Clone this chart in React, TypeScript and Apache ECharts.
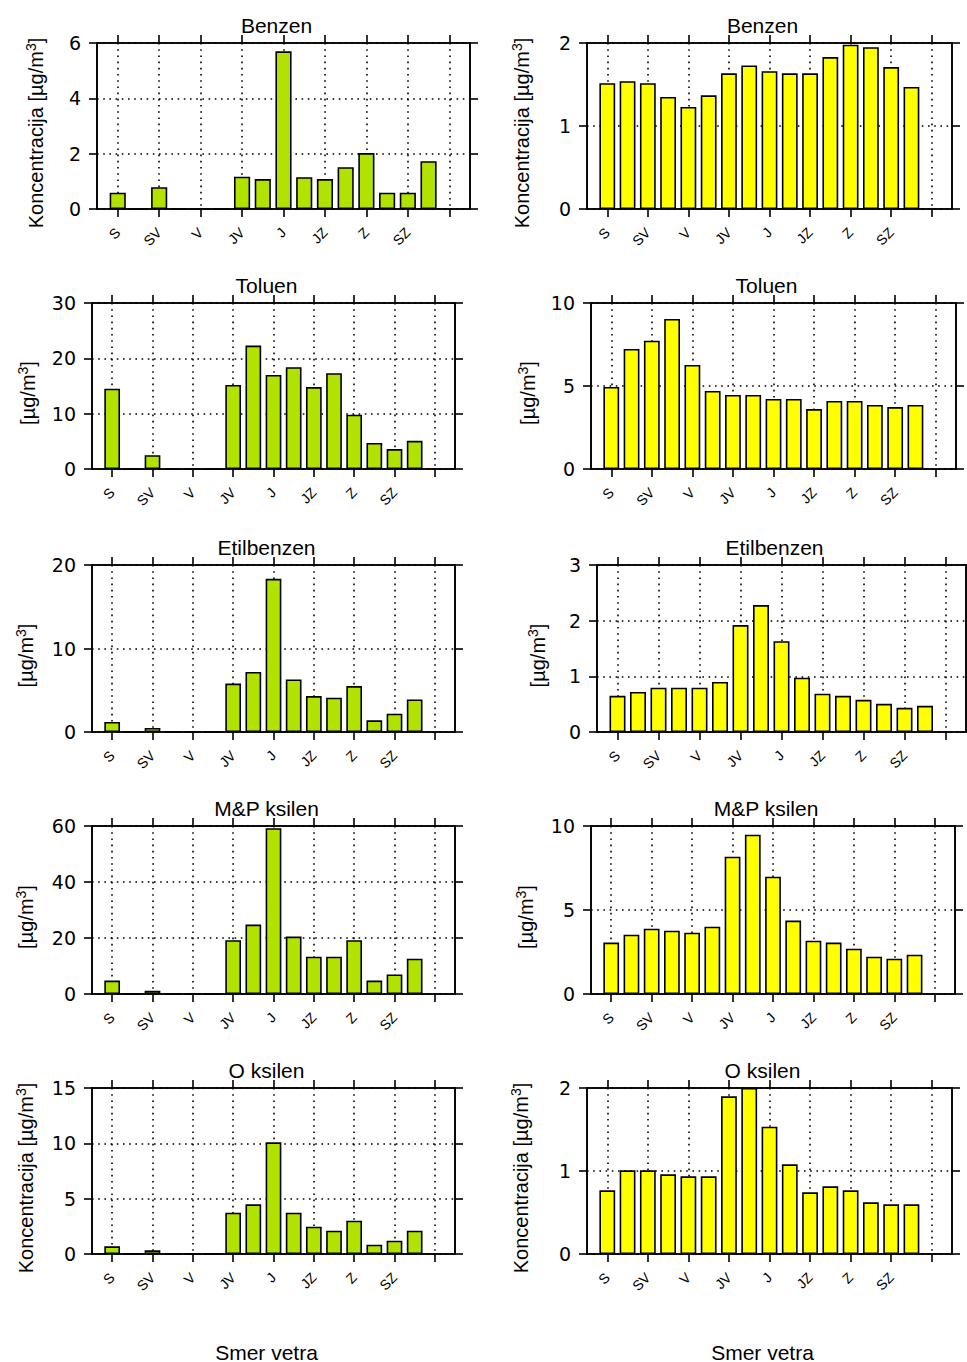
import React, { useEffect, useRef } from "react";
import * as echarts from "echarts";

// 16 wind directions (bars at positions 0..15)
const directions = ["S", "SSV", "SV", "VSV", "V", "VJV", "JV", "JJV", "J", "JJZ", "JZ", "ZJZ", "Z", "ZSZ", "SZ", "SSZ"];

const titles = ["Benzen", "Toluen", "Etilbenzen", "M&P ksilen", "O ksilen"];

// left column (green)
const benzenLeft = [0.59, 0, 0.79, 0, 0, 0, 1.17, 1.08, 5.7, 1.15, 1.08, 1.51, 2.02, 0.59, 0.59, 1.73];
const toluenLeft = [14.5, 0, 2.5, 0, 0, 0, 15.2, 22.3, 17.0, 18.4, 14.8, 17.3, 9.8, 4.7, 3.6, 5.1];
const etilbenzenLeft = [1.2, 0, 0.48, 0, 0, 0, 5.8, 7.2, 18.35, 6.3, 4.3, 4.1, 5.5, 1.4, 2.2, 3.9];
const mpKsilenLeft = [4.8, 0, 1.2, 0, 0, 0, 19.2, 24.8, 59.2, 20.5, 13.3, 13.3, 19.2, 4.8, 7.0, 12.6];
const oKsilenLeft = [0.69, 0, 0.33, 0, 0, 0, 3.73, 4.49, 10.09, 3.73, 2.47, 2.11, 3.01, 0.84, 1.2, 2.11];

// right column (yellow)
const benzenRight = [1.515, 1.54, 1.515, 1.35, 1.23, 1.37, 1.635, 1.73, 1.66, 1.635, 1.635, 1.83, 1.98, 1.95, 1.71, 1.47];
const toluenRight = [4.94, 7.23, 7.73, 9.04, 6.27, 4.7, 4.46, 4.46, 4.22, 4.22, 3.61, 4.1, 4.1, 3.86, 3.73, 3.86];
const etilbenzenRight = [0.65, 0.72, 0.795, 0.795, 0.795, 0.9, 1.92, 2.28, 1.63, 0.976, 0.687, 0.65, 0.578, 0.506, 0.434, 0.47];
const mpKsilenRight = [3.06, 3.53, 3.89, 3.77, 3.65, 4.01, 8.17, 9.48, 6.98, 4.37, 3.17, 3.06, 2.7, 2.22, 2.1, 2.34];
const oKsilenRight = [0.767, 1.008, 1.008, 0.96, 0.936, 0.936, 1.9, 2.0, 1.534, 1.08, 0.743, 0.815, 0.767, 0.622, 0.598, 0.598];

const leftValues = [benzenLeft, toluenLeft, etilbenzenLeft, mpKsilenLeft, oKsilenLeft];
const rightValues = [benzenRight, toluenRight, etilbenzenRight, mpKsilenRight, oKsilenRight];

const leftMax = [6, 30, 20, 60, 15];
const leftInterval = [2, 10, 10, 20, 5];
const rightMax = [2, 10, 3, 10, 2];
const rightInterval = [1, 5, 1, 5, 1];

const yNameFull = "Koncentracija [µg/m";
const yNameShort = "[µg/m";
const xName = "Smer vetra";

// panel frames [left, top, right, bottom] in px
const leftFrames = [
  [97, 43, 470, 209],
  [92, 303, 455, 469],
  [92, 565, 455, 732],
  [92, 826, 455, 994],
  [92, 1088, 455, 1254],
];
const rightFrames = [
  [587, 43, 952, 209],
  [591, 303, 956, 469],
  [597, 565, 966, 732],
  [591, 826, 955, 994],
  [587, 1088, 952, 1254],
];
const leftNameX = [36, 28, 26, 26, 26];
const rightNameX = [522, 528, 538, 526, 521];

const GREEN = "#b2e200";
const YELLOW = "#ffff00";
const FONT = "'Liberation Sans', Arial, sans-serif";
const NUM_FONT = "'DejaVu Sans', 'Liberation Sans', sans-serif";

const cats = ["", ...directions, " ", "  "]; // positions -1 .. 17

const tickShow = (i: number) => i >= 1 && i <= 17 && (i - 1) % 2 === 0;
const labelShow = (i: number) => i >= 1 && i <= 15 && (i - 1) % 2 === 0;

export default function App() {
  const ref = useRef<HTMLDivElement>(null);

  useEffect(() => {
    document.body.style.margin = "0";
    if (!ref.current) return;
    const chart = echarts.init(ref.current, null, { renderer: "svg" });

    const grids: any[] = [];
    const xAxes: any[] = [];
    const yAxes: any[] = [];
    const series: any[] = [];
    const graphics: any[] = [];

    const dotted = { color: "#000", width: 1.6, type: [1.6, 4.6] };
    const solid = { color: "#000", width: 1.6 };

    const addPanel = (
      frame: number[],
      values: number[],
      max: number,
      interval: number,
      color: string,
      title: string,
      yName: string,
      nameX: number,
      showX: boolean
    ) => {
      const gi = grids.length;
      const [l, t, r, b] = frame;
      grids.push({
        left: l,
        top: t,
        width: r - l,
        height: b - t,
        containLabel: false,
        show: true,
        borderColor: "#000",
        borderWidth: 1.6,
        backgroundColor: "transparent",
      });
      xAxes.push({
        type: "category",
        gridIndex: gi,
        data: cats,
        boundaryGap: false,
        position: "bottom",
        axisLine: { show: true, onZero: false, lineStyle: solid },
        axisTick: { show: true, inside: false, length: 8, interval: (i: number) => tickShow(i), lineStyle: solid },
        axisLabel: {
          show: true,
          interval: (i: number) => labelShow(i),
          rotate: 45,
          margin: 21,
          fontSize: 14,
          fontFamily: FONT,
          color: "#000",
        },
        splitLine: { show: true, interval: (i: number) => tickShow(i), lineStyle: dotted },
      });
      xAxes.push({
        type: "category",
        gridIndex: gi,
        data: cats,
        boundaryGap: false,
        position: "top",
        axisLine: { show: true, onZero: false, lineStyle: solid },
        axisTick: { show: true, inside: false, length: 8, interval: (i: number) => tickShow(i), lineStyle: solid },
        axisLabel: { show: false },
        splitLine: { show: false },
      });
      yAxes.push({
        type: "value",
        gridIndex: gi,
        min: 0,
        max,
        interval,
        position: "left",
        axisLine: { show: true, lineStyle: solid },
        axisTick: { show: true, inside: false, length: 8, lineStyle: solid },
        axisLabel: { show: true, margin: 16, fontSize: 19, fontFamily: NUM_FONT, color: "#000" },
        splitLine: { show: true, lineStyle: dotted },
      });
      yAxes.push({
        type: "value",
        gridIndex: gi,
        min: 0,
        max,
        interval,
        position: "right",
        axisLine: { show: true, lineStyle: solid },
        axisTick: { show: true, inside: false, length: 8, lineStyle: solid },
        axisLabel: { show: false },
        splitLine: { show: false },
      });
      series.push({
        type: "bar",
        xAxisIndex: 2 * gi,
        yAxisIndex: 2 * gi,
        data: ["-", ...values, "-", "-"],
        barWidth: "78%",
        itemStyle: { color, borderColor: "#000", borderWidth: 1.6 },
        silent: true,
      });
      graphics.push({
        type: "text",
        x: (l + r) / 2 - 7,
        y: t - 18,
        style: {
          text: title,
          fontSize: 21,
          fontFamily: FONT,
          fill: "#000",
          align: "center",
          verticalAlign: "middle",
          textAlign: "center",
          textVerticalAlign: "middle",
        },
      });
      graphics.push({
        type: "text",
        x: nameX,
        y: (t + b) / 2 + 7,
        rotation: Math.PI / 2,
        style: {
          text: `{a|${yName}}{s|3}{a|]}`,
          rich: {
            a: { fontSize: 20, fontFamily: FONT, fill: "#000", lineHeight: 24 },
            s: { fontSize: 14, fontFamily: FONT, fill: "#000", verticalAlign: "top", lineHeight: 14 },
          },
          align: "center",
          verticalAlign: "middle",
          textAlign: "center",
          textVerticalAlign: "middle",
        },
      });
      if (showX) {
        graphics.push({
          type: "text",
          x: (l + r) / 2 - 7,
          y: 1352,
          style: {
            text: xName,
            fontSize: 21,
            fontFamily: FONT,
            fill: "#000",
            align: "center",
            verticalAlign: "middle",
            textAlign: "center",
            textVerticalAlign: "middle",
          },
        });
      }
    };

    for (let k = 0; k < 5; k++) {
      const full = k === 0 || k === 4;
      addPanel(leftFrames[k], leftValues[k], leftMax[k], leftInterval[k], GREEN, titles[k], full ? yNameFull : yNameShort, leftNameX[k], k === 4);
      addPanel(rightFrames[k], rightValues[k], rightMax[k], rightInterval[k], YELLOW, titles[k], full ? yNameFull : yNameShort, rightNameX[k], k === 4);
    }

    chart.setOption({
      animation: false,
      backgroundColor: "#fff",
      grid: grids,
      xAxis: xAxes,
      yAxis: yAxes,
      series,
      graphic: graphics,
    });

    return () => chart.dispose();
  }, []);

  return <div ref={ref} style={{ width: 967, height: 1362 }} />;
}
